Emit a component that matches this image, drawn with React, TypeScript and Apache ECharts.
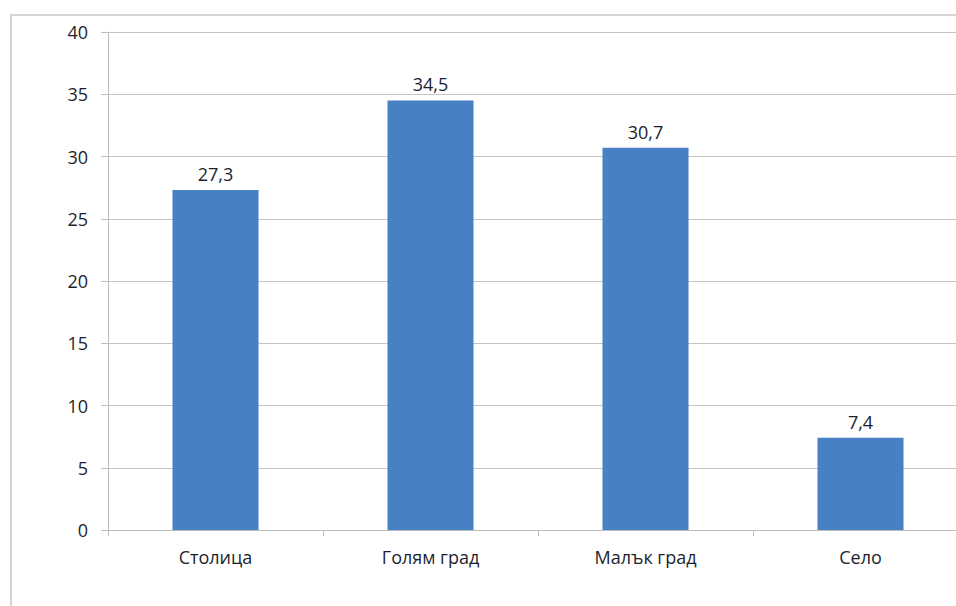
import React, { useEffect, useRef } from "react";
import * as echarts from "echarts";

const categories = ["Столица", "Голям град", "Малък град", "Село"];
const values = [27.3, 34.5, 30.7, 7.4];
const yTicks = { min: 0, max: 40, interval: 5 };

export default function App() {
  const ref = useRef<HTMLDivElement>(null);
  useEffect(() => {
    if (!ref.current) return;
    const chart = echarts.init(ref.current, undefined, { renderer: "svg" });
    const font = "'Open Sans', 'Noto Sans', sans-serif";
    chart.setOption({
      animation: false,
      backgroundColor: "#ffffff",
      graphic: [
        {
          type: "rect",
          shape: { x: 11, y: 15, width: 980, height: 620 },
          style: { fill: "none", stroke: "#d6d6d6", lineWidth: 2 },
          silent: true,
        },
      ],
      grid: {
        left: 108,
        top: 32,
        width: 860,
        height: 498,
        containLabel: false,
        outerBoundsMode: "none",
      },
      xAxis: {
        type: "category",
        data: categories,
        axisLine: { show: true, lineStyle: { color: "#bdbdbd", width: 1 } },
        axisTick: { show: true, alignWithLabel: false, length: 6, lineStyle: { color: "#bdbdbd" } },
        axisLabel: { color: "#1c1f2e", fontSize: 18, fontFamily: font, margin: 18 },
        splitLine: { show: false },
      },
      yAxis: {
        type: "value",
        min: yTicks.min,
        max: yTicks.max,
        interval: yTicks.interval,
        axisLine: { show: true, lineStyle: { color: "#bdbdbd", width: 1 } },
        axisTick: { show: true, length: 7, lineStyle: { color: "#bdbdbd" } },
        axisLabel: { color: "#1c1f2e", fontSize: 18, fontFamily: font, margin: 20 },
        splitLine: { show: true, lineStyle: { color: "#c4c4c4", width: 1 } },
      },
      series: [
        {
          type: "bar",
          data: values,
          barWidth: "40%",
          itemStyle: { color: "#4780c3" },
          label: {
            show: true,
            position: "top",
            distance: 7,
            color: "#1c1f2e",
            fontSize: 18,
            fontFamily: font,
            formatter: (p: any) => String(p.value).replace(".", ","),
          },
        },
      ],
    });
    return () => chart.dispose();
  }, []);
  return (
    <div
      ref={ref}
      style={{ position: "fixed", left: 0, top: 0, width: 956, height: 606 }}
    />
  );
}
